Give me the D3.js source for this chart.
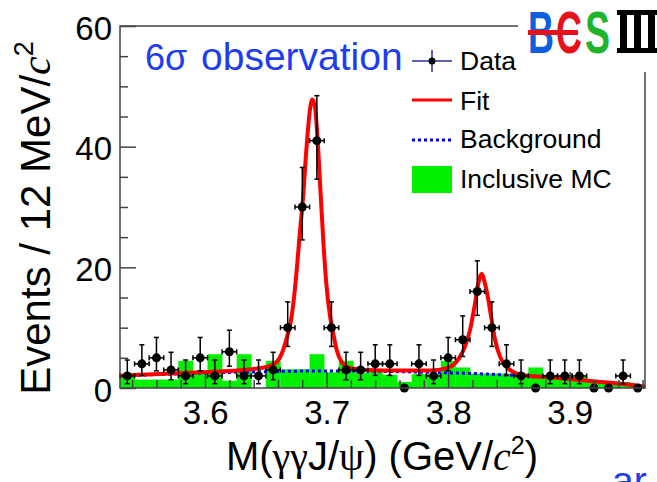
<!DOCTYPE html>
<html>
<head>
<meta charset="utf-8">
<script src="https://cdn.jsdelivr.net/npm/d3@7/dist/d3.min.js"></script>
<style>
body { margin: 0; background: #fff; }
svg text { font-family: "Liberation Sans", Arial, sans-serif; }
</style>
</head>
<body>
<svg id="chart" width="657" height="482"></svg>
<script>
// 12 MeV bins, M(gamma gamma J/psi)
var binCenters = [3.536, 3.548, 3.560, 3.572, 3.584, 3.596, 3.608, 3.620, 3.632, 3.644, 3.656, 3.668,
                  3.680, 3.692, 3.704, 3.716, 3.728, 3.740, 3.752, 3.764, 3.776, 3.788, 3.800, 3.812,
                  3.824, 3.836, 3.848, 3.860, 3.872, 3.884, 3.896, 3.908, 3.920, 3.932, 3.944, 3.956];
var binWidth = 0.012;

var counts = [2, 4, 5, 3, 2, 5, 2, 6, 2, 2, 3, 10,
              30, 41, 10, 3, 3, 4, 4, 0, 4, 2, 5, 8,
              16, 10, 4, 2, 0, 2, 2, 2, 0, 0, 2, 0];

// asymmetric (poisson) errors, keyed by count
var errTable = { 0: [0, 0], 2: [1.29, 2.64], 3: [1.63, 2.92], 4: [1.91, 3.16], 5: [2.16, 3.38],
                 6: [2.38, 3.58], 8: [2.77, 3.95], 10: [3.11, 4.27], 16: [3.96, 5.08],
                 30: [5.45, 6.55], 41: [6.38, 7.45] };

var mcHeights = [2.2, 1.4, 1.4, 1.4, 4.5, 2.3, 5.6, 1.2, 5.6, 0, 4.5, 3.1,
                 3.1, 5.6, 2.6, 4.5, 2.5, 2.6, 2.2, 1.0, 2.3, 2.3, 4.5, 3.4,
                 2.4, 2.4, 2.4, 2.0, 3.4, 2.0, 2.0, 2.0, 0.9, 0.8, 1.0, 0.4];

var fitMass  = [3.5300, 3.5629, 3.5958, 3.6287, 3.6507, 3.6589, 3.6631, 3.6672, 3.6705, 3.6732,
                3.6756, 3.6781, 3.6808, 3.6828, 3.6843, 3.6861, 3.6882, 3.6903, 3.6925, 3.6950,
                3.6974, 3.6999, 3.7024, 3.7055, 3.7083, 3.7124, 3.7168, 3.7220, 3.7330, 3.7604,
                3.7851, 3.7988, 3.8057, 3.8098, 3.8139, 3.8180, 3.8221, 3.8248, 3.8276, 3.8303,
                3.8331, 3.8358, 3.8386, 3.8427, 3.8482, 3.8564, 3.8674, 3.8838, 3.9003, 3.9167,
                3.9441, 3.9620];
var fitValue = [2.05, 2.3, 2.6, 2.95, 3.5, 4.3, 5.7, 8.3, 11.0, 15,
                20, 26, 32, 38, 42, 45.8, 47.8, 46.8, 41.5, 32.5,
                24, 17, 12.5, 9.0, 6.3, 4.3, 3.5, 3.2, 3.0, 2.9,
                2.9, 3.3, 4.1, 5.2, 6.9, 9.6, 14.0, 17.3, 18.9, 17.3,
                14.6, 11.3, 8.0, 5.2, 3.5, 2.4, 2.0, 1.8, 1.5, 1.15,
                0.66, 0.2];

var bkgMass  = [3.530, 3.5958, 3.637, 3.6781, 3.7193, 3.7604, 3.8015, 3.8262, 3.8534, 3.8781,
                3.9003, 3.9167, 3.9441, 3.962];
var bkgValue = [2.0, 2.45, 2.65, 2.8, 2.82, 2.7, 2.5, 2.35, 2.1, 1.9,
                1.5, 1.15, 0.66, 0.2];

var xTicks = [3.6, 3.7, 3.8, 3.9];
var xMinor = [3.54, 3.56, 3.58, 3.62, 3.64, 3.66, 3.68, 3.72, 3.74, 3.76, 3.78,
              3.82, 3.84, 3.86, 3.88, 3.92, 3.94, 3.96];
var yTicks = [0, 20, 40, 60];
var yMinor = [5, 10, 15, 25, 30, 35, 45, 50, 55];
var legendLabels = ["Data", "Fit", "Background", "Inclusive MC"];

var svg = d3.select("#chart");
var padL = 120, padR = 645, padT = 26, padB = 388;

var x = d3.scaleLinear().domain([3.53, 3.962]).range([padL, padR]);
var y = d3.scaleLinear().domain([0, 60]).range([padB, padT]);

var frameColor = "#444";

// inclusive MC histogram
svg.append("g").selectAll("rect")
    .data(mcHeights)
  .enter().append("rect")
    .attr("x", function(d, i) { return x(binCenters[i] - binWidth / 2); })
    .attr("width", function(d, i) { return x(binCenters[i] + binWidth / 2) - x(binCenters[i] - binWidth / 2) + 0.3; })
    .attr("y", function(d) { return y(d); })
    .attr("height", function(d) { return y(0) - y(d); })
    .attr("fill", "#00f000");

// background
var bkgLine = d3.line()
    .x(function(d, i) { return x(bkgMass[i]); })
    .y(function(d) { return y(d); })
    .curve(d3.curveMonotoneX);
svg.append("path")
    .attr("d", bkgLine(bkgValue))
    .attr("fill", "none")
    .attr("stroke", "#0000ff")
    .attr("stroke-width", 3)
    .attr("stroke-dasharray", "3,3");

// fit
var fitLine = d3.line()
    .x(function(d, i) { return x(fitMass[i]); })
    .y(function(d) { return y(d); })
    .curve(d3.curveMonotoneX);
svg.append("path")
    .attr("d", fitLine(fitValue))
    .attr("fill", "none")
    .attr("stroke", "#ff0000")
    .attr("stroke-width", 4)
    .attr("stroke-linejoin", "round");

// data points with error bars
var pts = svg.append("g").attr("stroke", "#000").attr("stroke-width", 1.5);
var cap = 2.5;
counts.forEach(function(n, i) {
    var cx = x(binCenters[i]), cy = y(n);
    var e = errTable[n];
    if (n > 0) {
        var x0 = x(binCenters[i] - binWidth / 2), x1 = x(binCenters[i] + binWidth / 2);
        var y0 = y(n - e[0]), y1 = y(n + e[1]);
        pts.append("line").attr("x1", x0).attr("x2", x1).attr("y1", cy).attr("y2", cy);
        pts.append("line").attr("x1", x0).attr("x2", x0).attr("y1", cy - cap).attr("y2", cy + cap);
        pts.append("line").attr("x1", x1).attr("x2", x1).attr("y1", cy - cap).attr("y2", cy + cap);
        pts.append("line").attr("x1", cx).attr("x2", cx).attr("y1", y0).attr("y2", y1);
        pts.append("line").attr("x1", cx - cap).attr("x2", cx + cap).attr("y1", y0).attr("y2", y0);
        pts.append("line").attr("x1", cx - cap).attr("x2", cx + cap).attr("y1", y1).attr("y2", y1);
    }
    pts.append("circle").attr("cx", cx).attr("cy", cy).attr("r", 4.5)
        .attr("fill", "#000").attr("stroke", "none");
});

// axes (ticks inside the frame)
svg.append("g")
    .attr("transform", "translate(0," + padB + ")")
    .call(d3.axisBottom(x).tickValues(xTicks).tickFormat(d3.format(".1f"))
        .tickSizeInner(-16).tickSizeOuter(0).tickPadding(13));
svg.append("g")
    .attr("transform", "translate(0," + padB + ")")
    .call(d3.axisBottom(x).tickValues(xMinor).tickFormat("").tickSizeInner(-8).tickSizeOuter(0));

var yAxis = svg.append("g")
    .attr("transform", "translate(" + padL + ",0)")
    .call(d3.axisLeft(y).tickValues(yTicks).tickSizeInner(-16).tickSizeOuter(0).tickPadding(8));
svg.append("g")
    .attr("transform", "translate(" + padL + ",0)")
    .call(d3.axisLeft(y).tickValues(yMinor).tickFormat("").tickSizeInner(-8).tickSizeOuter(0));

svg.selectAll(".domain").remove();
svg.selectAll(".tick line").attr("stroke", frameColor).attr("stroke-width", 1.5);
svg.selectAll(".tick text")
    .attr("font-family", "'Liberation Sans', Arial, sans-serif")
    .attr("font-size", 33)
    .attr("fill", "#000");
yAxis.selectAll(".tick text").attr("dy", "0.4em");

// frame
svg.append("rect")
    .attr("x", padL).attr("y", padT)
    .attr("width", padR - padL).attr("height", padB - padT)
    .attr("fill", "none")
    .attr("stroke", frameColor)
    .attr("stroke-width", 1.5);

// axis titles
var yTitle = svg.append("text")
    .attr("transform", "translate(50,218) rotate(-90)")
    .attr("text-anchor", "middle")
    .attr("font-size", 42);
yTitle.append("tspan").text("Events / 12 MeV/");
yTitle.append("tspan").attr("font-family", "'Liberation Serif', serif").attr("font-style", "italic").text("c");
yTitle.append("tspan").attr("font-size", 27).attr("dy", -17).text("2");

var xTitle = svg.append("text")
    .attr("x", 382).attr("y", 470)
    .attr("text-anchor", "middle")
    .attr("font-size", 40);
xTitle.append("tspan").text("M(");
xTitle.append("tspan").attr("font-family", "'Liberation Serif', serif").text("γγ");
xTitle.append("tspan").text("J/");
xTitle.append("tspan").attr("font-family", "'Liberation Serif', serif").text("ψ");
xTitle.append("tspan").text(") (GeV/");
xTitle.append("tspan").attr("font-family", "'Liberation Serif', serif").attr("font-style", "italic").text("c");
xTitle.append("tspan").attr("font-size", 25).attr("dy", -16).text("2");
xTitle.append("tspan").attr("dy", 16).text(")");

// legend
var legY = [70, 110, 148, 188];
var lg = svg.append("g");
legendLabels.forEach(function(lab, i) {
    lg.append("text").attr("x", 460).attr("y", legY[i]).attr("font-size", 26.5).attr("fill", "#000").text(lab);
});
var mx0 = 412, mx1 = 452, mxc = 432;
lg.append("line").attr("x1", mx0).attr("x2", mx1).attr("y1", 61).attr("y2", 61)
    .attr("stroke", "#2b2b9c").attr("stroke-width", 1.5);
lg.append("line").attr("x1", mxc).attr("x2", mxc).attr("y1", 50).attr("y2", 72)
    .attr("stroke", "#2b2b9c").attr("stroke-width", 1.5);
lg.append("circle").attr("cx", mxc).attr("cy", 61).attr("r", 3.5).attr("fill", "#000");
lg.append("line").attr("x1", mx0).attr("x2", mx1).attr("y1", 100).attr("y2", 100)
    .attr("stroke", "#ff0000").attr("stroke-width", 3);
lg.append("line").attr("x1", mx0).attr("x2", mx1).attr("y1", 140).attr("y2", 140)
    .attr("stroke", "#0000ff").attr("stroke-width", 3).attr("stroke-dasharray", "3,3");
lg.append("rect").attr("x", mx0).attr("y", 166).attr("width", mx1 - mx0).attr("height", 27)
    .attr("fill", "#00f000");

// annotation
svg.append("text").attr("x", 145).attr("y", 70)
    .attr("font-family", "'Liberation Serif', serif").attr("font-size", 36)
    .attr("fill", "#1e3cf0").text("6σ");
svg.append("text").attr("x", 201).attr("y", 70)
    .attr("font-family", "Lato, 'Open Sans', sans-serif").attr("font-size", 39)
    .attr("fill", "#1e3cf0").text("observation");
svg.append("text").attr("x", 612).attr("y", 494)
    .attr("font-family", "Lato, 'Open Sans', sans-serif").attr("font-size", 39)
    .attr("fill", "#1e3cf0").text("ar");

// BESIII logo
var logo = svg.append("g");
logo.append("rect").attr("x", 518).attr("y", 0).attr("width", 139).attr("height", 72).attr("fill", "#fff");
logo.append("text").attr("x", 528).attr("y", 53).attr("font-size", 60).attr("font-weight", "bold")
    .attr("textLength", 26).attr("lengthAdjust", "spacingAndGlyphs")
    .attr("fill", "#0d5fe0").text("B");
logo.append("text").attr("x", 556).attr("y", 53).attr("font-size", 60).attr("font-weight", "bold")
    .attr("textLength", 26).attr("lengthAdjust", "spacingAndGlyphs")
    .attr("fill", "#e8101a").text("C");
logo.append("rect").attr("x", 528).attr("y", 30).attr("width", 50).attr("height", 5).attr("fill", "#e8101a");
logo.append("text").attr("x", 585).attr("y", 53).attr("font-size", 60).attr("font-weight", "bold")
    .attr("textLength", 25).attr("lengthAdjust", "spacingAndGlyphs")
    .attr("fill", "#1cb52c").text("S");
logo.append("rect").attr("x", 617).attr("y", 10).attr("width", 40).attr("height", 5).attr("fill", "#000");
logo.append("rect").attr("x", 617).attr("y", 48).attr("width", 40).attr("height", 5).attr("fill", "#000");
[620, 634, 648].forEach(function(bx) {
    logo.append("rect").attr("x", bx).attr("y", 10).attr("width", 7).attr("height", 43).attr("fill", "#000");
});
</script>
</body>
</html>
